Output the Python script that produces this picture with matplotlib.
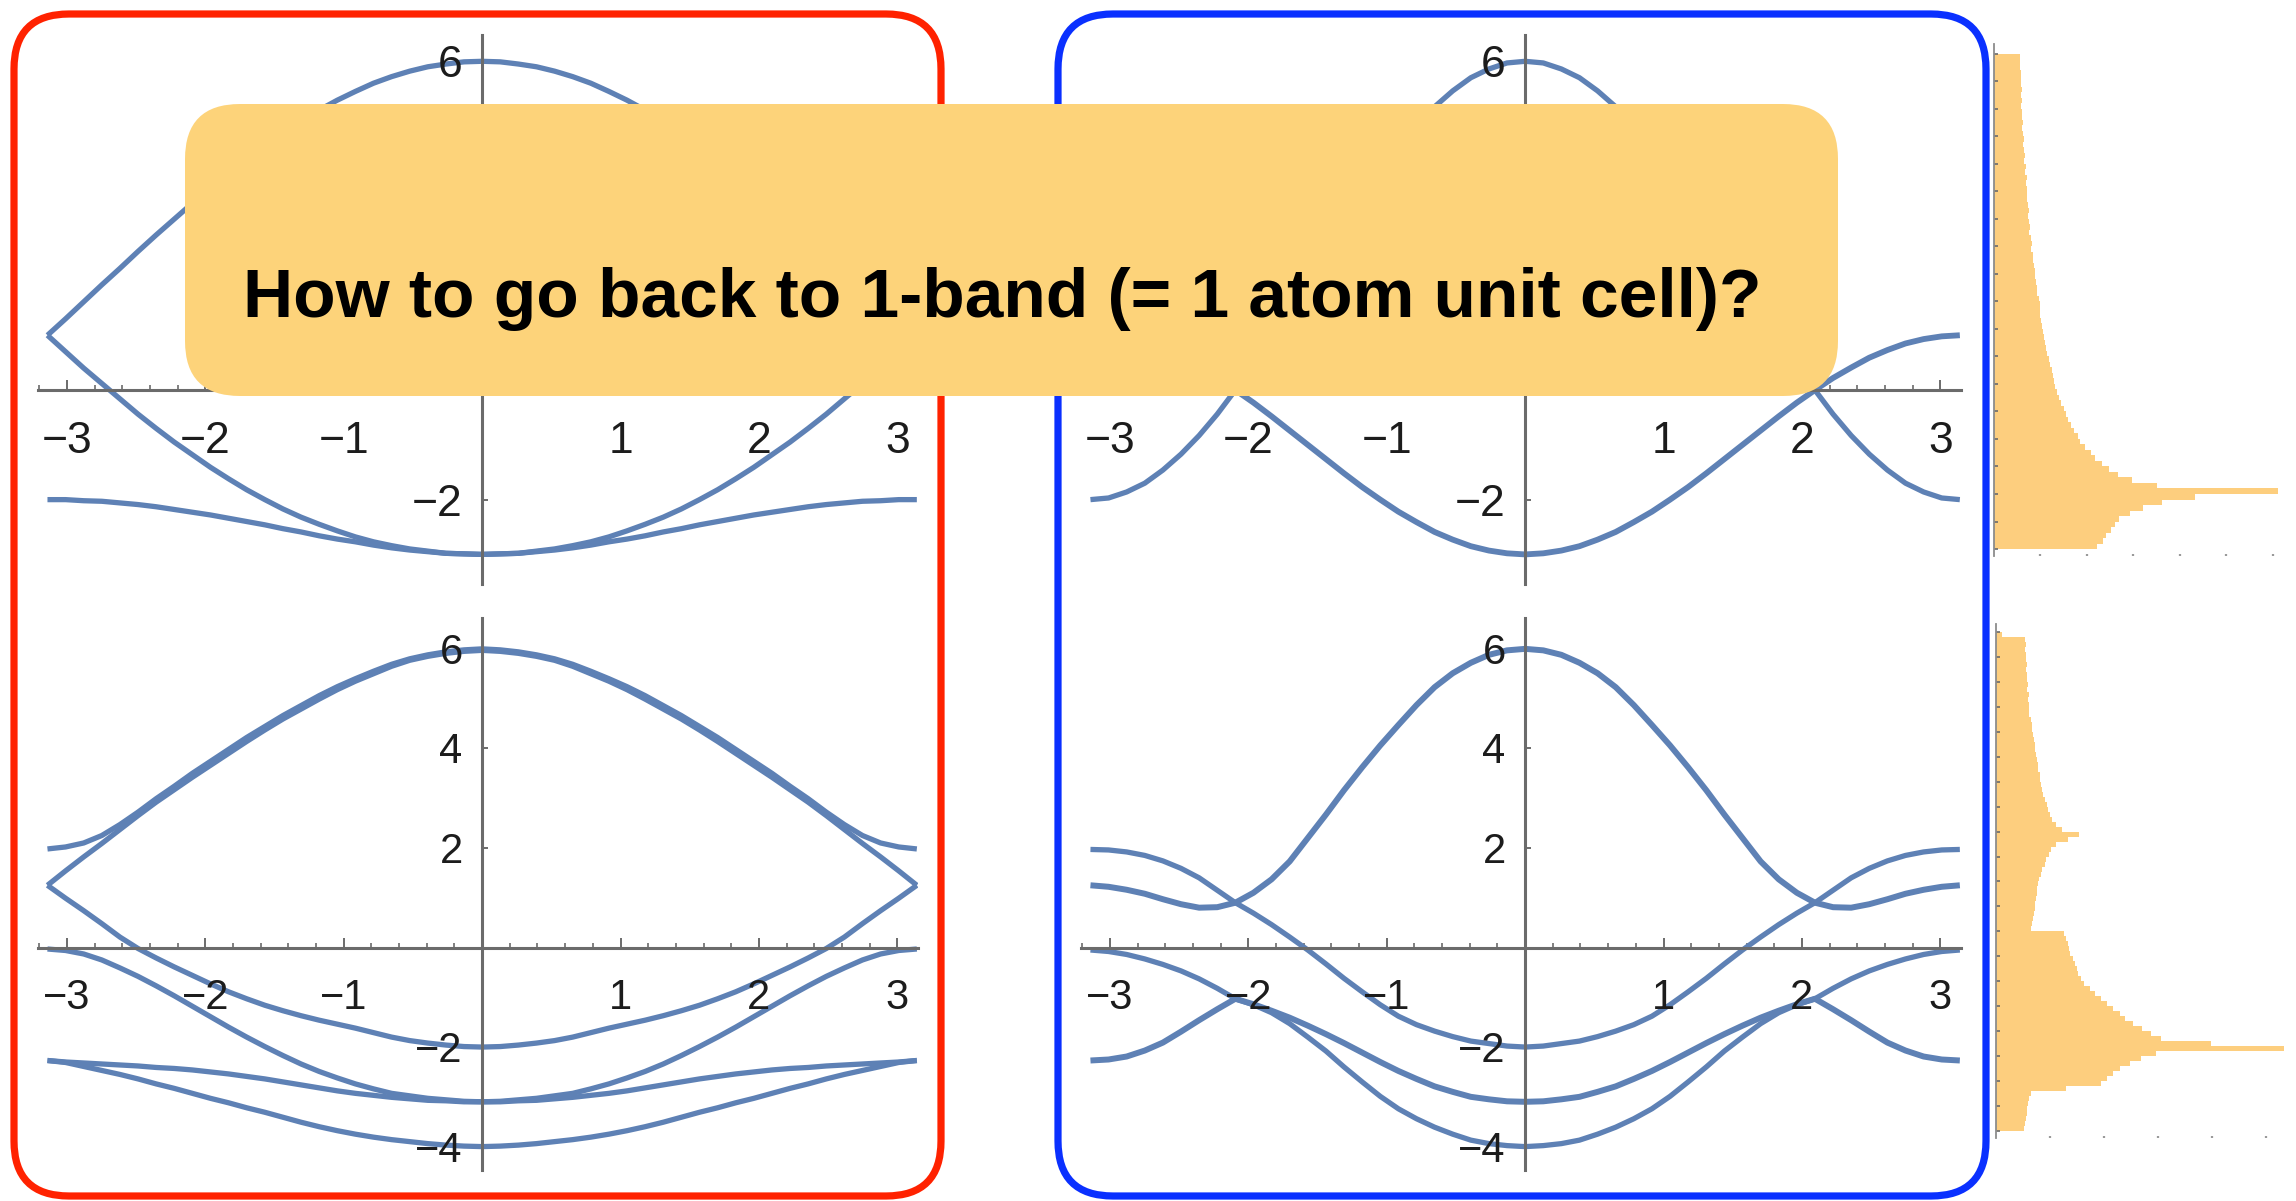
import numpy as np
import matplotlib
matplotlib.use("Agg")
import matplotlib.pyplot as plt
from matplotlib.patches import FancyBboxPatch
from matplotlib.ticker import MultipleLocator

# band energies on k = 0 .. pi (step pi/24); all bands are even in k
k_half = np.linspace(0, np.pi, 25)

# 3-site cell, folded along the chain
tl_low = [-3.00, -2.99, -2.98, -2.95, -2.92, -2.88, -2.83, -2.77, -2.72, -2.66, -2.59, -2.53, -2.46,
          -2.40, -2.34, -2.28, -2.23, -2.18, -2.13, -2.09, -2.06, -2.03, -2.02, -2.00, -2.00]
tl_mid = [-3.00, -2.99, -2.98, -2.94, -2.90, -2.84, -2.77, -2.68, -2.57, -2.45, -2.32, -2.17, -2.00,
          -1.82, -1.62, -1.41, -1.18, -0.95, -0.70, -0.44, -0.16, 0.12, 0.40, 0.70, 1.00]
tl_top = [6.00, 5.99, 5.95, 5.90, 5.82, 5.72, 5.60, 5.45, 5.29, 5.11, 4.91, 4.70, 4.46,
          4.22, 3.96, 3.69, 3.41, 3.12, 2.83, 2.53, 2.22, 1.92, 1.61, 1.30, 1.00]

# 3-site cell, other cut
tr_p = [6.00, 5.97, 5.86, 5.70, 5.46, 5.17, 4.83, 4.44, 4.00, 3.53, 3.04, 2.52, 2.00,
        1.48, 0.96, 0.47, 0.00, -0.44, -0.83, -1.17, -1.46, -1.70, -1.86, -1.97, -2.00]
tr_q = [-3.00, -2.98, -2.93, -2.85, -2.73, -2.59, -2.41, -2.22, -2.00, -1.77, -1.52, -1.26, -1.00,
        -0.74, -0.48, -0.23, 0.00, 0.22, 0.41, 0.59, 0.73, 0.85, 0.93, 0.98, 1.00]

# 6-site cell, folded along the chain
bl_u = [6.00, 5.98, 5.94, 5.88, 5.80, 5.69, 5.55, 5.40, 5.24, 5.06, 4.86, 4.66, 4.44,
        4.22, 3.98, 3.74, 3.50, 3.24, 2.99, 2.72, 2.47, 2.25, 2.10, 2.02, 1.98]
bl_l = [5.97, 5.95, 5.91, 5.85, 5.77, 5.65, 5.50, 5.35, 5.18, 4.99, 4.79, 4.59, 4.37,
        4.14, 3.90, 3.66, 3.42, 3.17, 2.92, 2.65, 2.37, 2.09, 1.82, 1.54, 1.25]
bl_c = [-2.00, -1.99, -1.96, -1.92, -1.87, -1.80, -1.71, -1.62, -1.54, -1.46, -1.37, -1.27, -1.16,
        -1.03, -0.89, -0.73, -0.56, -0.39, -0.21, -0.02, 0.21, 0.48, 0.74, 0.99, 1.25]
bl_d = [-3.10, -3.09, -3.06, -3.03, -2.98, -2.93, -2.84, -2.74, -2.62, -2.49, -2.34, -2.17, -1.99,
        -1.80, -1.60, -1.39, -1.18, -0.97, -0.77, -0.58, -0.41, -0.25, -0.13, -0.06, -0.03]
bl_e = [-3.10, -3.10, -3.08, -3.07, -3.04, -3.01, -2.97, -2.93, -2.88, -2.82, -2.76, -2.70, -2.64,
        -2.59, -2.54, -2.50, -2.46, -2.43, -2.41, -2.38, -2.36, -2.34, -2.32, -2.30, -2.27]
bl_f = [-4.00, -3.99, -3.97, -3.94, -3.90, -3.86, -3.81, -3.75, -3.68, -3.60, -3.51, -3.41, -3.31,
        -3.22, -3.12, -3.03, -2.93, -2.83, -2.74, -2.64, -2.55, -2.47, -2.39, -2.31, -2.27]

# 6-site cell, other cut
br_1 = [6.00, 5.97, 5.88, 5.72, 5.51, 5.23, 4.87, 4.47, 4.06, 3.62, 3.16, 2.67, 2.20,
        1.73, 1.37, 1.10, 0.90, 0.81, 0.80, 0.87, 0.97, 1.08, 1.16, 1.22, 1.25]
br_2 = [-2.00, -1.98, -1.93, -1.88, -1.79, -1.68, -1.55, -1.38, -1.15, -0.89, -0.62, -0.33, -0.05,
        0.21, 0.46, 0.69, 0.90, 1.15, 1.40, 1.59, 1.74, 1.85, 1.92, 1.96, 1.97]
br_3 = [-3.10, -3.09, -3.05, -3.00, -2.90, -2.79, -2.64, -2.48, -2.30, -2.11, -1.92, -1.74, -1.57,
        -1.41, -1.27, -1.14, -1.03, -1.24, -1.46, -1.69, -1.91, -2.07, -2.19, -2.25, -2.27]
br_4 = [-4.00, -3.98, -3.94, -3.87, -3.75, -3.61, -3.44, -3.24, -2.99, -2.70, -2.40, -2.08, -1.80,
        -1.53, -1.31, -1.15, -1.03, -0.82, -0.63, -0.47, -0.34, -0.23, -0.14, -0.08, -0.05]

# density of states histograms, bins of 0.1 listed from the top of the band down
dos_top_counts = [28, 28, 28, 29, 29, 29, 30, 29, 30, 29, 30, 30, 31, 30, 31, 32, 31, 32, 33, 32,
                  34, 33, 35, 34, 36, 36, 35, 37, 38, 37, 38, 39, 38, 40, 41, 40, 42, 42, 43, 44,
                  44, 45, 46, 46, 48, 49, 49, 50, 51, 52, 53, 54, 55, 56, 57, 59, 60, 62, 63, 65,
                  66, 68, 70, 72, 75, 77, 80, 83, 86, 90, 93, 98, 104, 109, 116, 124, 133, 148, 175, 306,
                  216, 181, 160, 146, 134, 130, 126, 120, 117, 111]
dos_bot_counts = [6, 27, 28, 27, 28, 28, 29, 28, 29, 29, 30, 29, 31, 30, 31, 31, 31, 32, 33, 33,
                  34, 35, 36, 36, 37, 38, 39, 39, 41, 41, 42, 43, 44, 45, 47, 48, 50, 52, 56, 61,
                  77, 67, 56, 51, 49, 46, 45, 43, 42, 40, 39, 38, 38, 37, 36, 36, 35, 34, 33, 32,
                  63, 65, 67, 68, 69, 71, 73, 75, 76, 79, 82, 87, 92, 97, 103, 108, 115, 120, 127, 135,
                  144, 153, 199, 267, 148, 134, 124, 115, 108, 103, 97, 65, 32, 31, 30, 29, 29, 28, 27, 26]

LINE = "#5e81b5"
AXIS = "#6b6b6b"
DOS = "#fdce7e"
NARROW = ["Liberation Sans Narrow", "Liberation Sans", "DejaVu Sans"]

W, H = 2296, 1201
fig = plt.figure(figsize=(W / 100, H / 100), dpi=100)


def px_rect(x0, y0, x1, y1):
    return [x0 / W, 1 - y1 / H, (x1 - x0) / W, (y1 - y0) / H]


k = np.concatenate([-k_half[:0:-1], k_half])


def mirror(v):
    v = np.asarray(v)
    return np.concatenate([v[:0:-1], v])


def lab(v):
    return ("\u2212%d" % -v) if v < 0 else "%d" % v


def band_panel(box, ylim, yticks, ylabels, bands, fs, base):
    ax = fig.add_axes(px_rect(*box))
    ax.patch.set_alpha(0)
    for b, lw in bands:
        ax.plot(k, mirror(b), color=LINE, lw=lw, solid_capstyle="butt", zorder=2)
    ax.set_xlim(-3.21, 3.15)
    ax.set_ylim(*ylim)
    for s in ("top", "right"):
        ax.spines[s].set_visible(False)
    for s in ("left", "bottom"):
        ax.spines[s].set_position(("data", 0))
        ax.spines[s].set_color(AXIS)
        ax.spines[s].set_linewidth(2.2)
    xt = [-3, -2, -1, 1, 2, 3]
    ax.set_xticks(xt)
    ax.xaxis.set_minor_locator(MultipleLocator(0.2))
    ax.set_yticks(yticks)
    ax.tick_params(axis="x", which="major", direction="in", length=7, width=1.4, color=AXIS)
    ax.tick_params(axis="x", which="minor", direction="in", length=3.6, width=1.2, color=AXIS)
    ax.tick_params(axis="y", which="major", direction="in", length=4.5, width=1.4, color=AXIS)
    ax.tick_params(labelbottom=False, labelleft=False)
    for v in xt:
        ax.annotate(lab(v), xy=(v, 0), xytext=(0, -base), textcoords="offset points",
                    ha="center", va="baseline", fontsize=fs, family=NARROW, color="#1c1c1c")
    for v in ylabels:
        ax.annotate(lab(v), xy=(0, v), xytext=(-14, -fs * 0.36), textcoords="offset points",
                    ha="right", va="baseline", fontsize=fs, family=NARROW, color="#1c1c1c")
    return ax


lw = 3.8
# in the upper row the labels 2 and 4 sit under the banner, so only 6 and -2 are written
band_panel((38, 35, 918, 584), (-3.54, 6.48), [-2, 2, 4, 6], [-2, 6],
           [(tl_low, lw), (tl_mid, lw), (tl_top, lw)], 32, 45.5)
band_panel((1081, 35, 1961, 584), (-3.54, 6.48), [-2, 2, 4, 6], [-2, 6],
           [(tr_q, lw + 0.4), (tr_p, lw)], 32, 45.5)
band_panel((38, 618, 918, 1170), (-4.47, 6.62), [-4, -2, 2, 4, 6], [-4, -2, 2, 4, 6],
           [(bl_f, lw), (bl_e, lw), (bl_d, lw), (bl_c, lw), (bl_l, lw), (bl_u, lw)], 30, 44.5)
band_panel((1081, 618, 1961, 1170), (-4.47, 6.62), [-4, -2, 2, 4, 6], [-4, -2, 2, 4, 6],
           [(br_4, lw), (br_3, lw + 0.5), (br_2, lw), (br_1, lw + 0.5)], 30, 44.5)


def dos_panel(box, counts, e_top, ylim, xmax, xstep):
    ax = fig.add_axes(px_rect(*box))
    ax.patch.set_alpha(0)
    centers = np.round(e_top - 0.05 - 0.1 * np.arange(len(counts)), 2)
    ax.barh(centers, counts, height=0.1, color=DOS, linewidth=0)
    ax.set_ylim(*ylim)
    ax.set_xlim(0, xmax)
    for s in ("top", "right", "bottom"):
        ax.spines[s].set_visible(False)
    ax.spines["left"].set_color("#8c8c8c")
    ax.spines["left"].set_linewidth(1.3)
    lo = e_top - 0.1 * len(counts)
    ax.set_yticks(np.arange(lo, e_top + 0.01, 0.5))
    ax.set_xticks(np.arange(xstep, xmax, xstep))
    ax.tick_params(axis="y", direction="in", length=3, width=1.2, color=AXIS, labelleft=False)
    ax.tick_params(axis="x", direction="in", length=1.2, width=1.6, color="#9a9a9a", labelbottom=False)
    return ax


dos_panel((1994, 44, 2296, 556), dos_top_counts, 6.0, (-3.127, 6.18), 325, 50)
dos_panel((1996, 624, 2296, 1138), dos_bot_counts, 6.0, (-4.15, 6.17), 278, 50)

# frames and the question banner, drawn in pixel units on top
ov = fig.add_axes([0, 0, 1, 1], zorder=10)
ov.set_xlim(0, W)
ov.set_ylim(H, 0)
ov.axis("off")
ov.patch.set_alpha(0)
for (x0, x1), col in (((14, 941), "#ff2200"), ((1058, 1986), "#0a30ff")):
    ov.add_patch(FancyBboxPatch((x0, 14), x1 - x0, 1182,
                                boxstyle="round,pad=0,rounding_size=55",
                                fill=False, ec=col, lw=5.2))
ov.add_patch(FancyBboxPatch((185, 104), 1653, 292, boxstyle="round,pad=0,rounding_size=55",
                            fc="#fdd37a", ec="none"))
ov.text(243, 317, "How to go back to 1-band (= 1 atom unit cell)?", fontsize=50,
        fontweight="bold", family=["Liberation Sans", "DejaVu Sans"], ha="left", va="baseline",
        color="black")

fig.savefig("out.png", dpi=100)
